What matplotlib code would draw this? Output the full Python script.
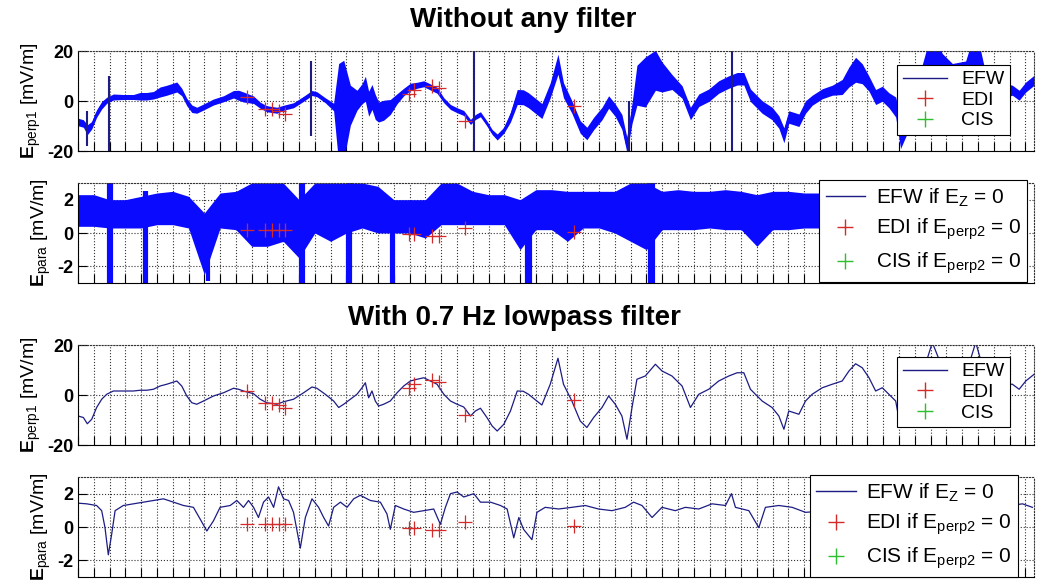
import numpy as np
import matplotlib
matplotlib.use("Agg")
import matplotlib.pyplot as plt
from matplotlib.lines import Line2D

plt.rcParams['font.family'] = ['Liberation Sans', 'DejaVu Sans']
plt.rcParams['mathtext.fontset'] = 'custom'
plt.rcParams['mathtext.rm'] = 'Liberation Sans'
plt.rcParams['mathtext.it'] = 'Liberation Sans:italic'
plt.rcParams['mathtext.bf'] = 'Liberation Sans:bold'
plt.rcParams['axes.unicode_minus'] = False

# ---- E_perp1, lowpass filtered (time in tick units) ----
e1_t = [0.00, 0.34, 0.59, 0.87, 1.18, 1.50, 1.82, 2.24, 2.87, 3.51,
        3.93, 4.35, 4.78, 5.20, 5.62, 6.26, 6.57, 6.89, 7.21, 7.52,
        7.95, 8.58, 9.22, 9.85, 10.17, 10.48, 11.12, 11.54, 11.96, 12.60,
        13.02, 13.65, 14.29, 14.82, 15.13, 15.66, 16.19, 16.51, 16.83, 17.25,
        17.67, 17.99, 18.20, 18.41, 18.62, 18.83, 19.04, 19.36, 19.78, 20.21,
        20.63, 21.05, 21.48, 21.90, 22.32, 22.74, 23.17, 23.59, 24.01, 24.43,
        24.86, 25.17, 25.49, 25.91, 26.23, 26.55, 26.97, 27.39, 27.82, 28.20,
        28.53, 29.38, 29.91, 30.40, 30.75, 31.28, 31.81, 32.23, 32.66, 33.19,
        33.61, 34.03, 34.45, 34.77, 35.09, 35.40, 35.93, 36.57, 36.99, 37.62,
        38.26, 38.79, 39.32, 39.95, 40.58, 41.22, 41.75, 42.17, 42.59, 43.33,
        43.96, 44.39, 44.71, 45.02, 45.66, 46.08, 46.50, 47.14, 47.77, 48.40,
        48.83, 49.25, 49.67, 50.10, 50.52, 50.94, 51.36, 51.79, 52.10, 53.27,
        54.11, 54.74, 55.38, 56.22, 56.86, 57.49, 58.55, 59.18, 59.61, 60.03,
        60.56]
e1_filt = [-8.4, -9.0, -11.5, -9.7, -5.0, -1.7, 0.3, 1.6, 1.6, 1.6,
           1.9, 1.9, 2.3, 3.6, 4.3, 5.6, 3.6, -0.4, -3.1, -3.7,
           -2.4, -0.4, 0.9, 2.7, 2.3, 1.6, 0.5, -1.7, -3.1, -3.7,
           -2.7, -1.7, 0.9, 3.2, 2.7, 0.3, -2.4, -5.0, -3.7, -1.7,
           0.3, 2.9, 4.9, -1.1, 1.6, -2.4, -4.4, -3.7, -2.4, 0.9,
           3.6, 5.6, 6.3, 6.9, 5.6, 4.3, 0.3, -2.4, -3.7, -4.8,
           -8.4, -6.4, -5.3, -9.1, -12.4, -14.4, -11.7, -6.4, 1.6, 1.5,
           0.3, -4.0, 4.3, 14.7, 4.3, -2.4, -10.4, -13.0, -9.0, -5.0,
           -0.4, -3.7, -8.4, -17.7, -5.0, 6.3, 7.6, 12.3, 9.6, 7.6,
           3.6, -5.0, 0.3, 2.3, 5.6, 7.6, 8.9, 8.9, 2.3, -2.4,
           -5.0, -8.4, -13.7, -6.4, -7.7, -2.4, 0.3, 2.9, 4.3, 5.6,
           9.6, 12.5, 10.9, 6.9, 1.6, 2.9, 0.3, -2.4, -13.0, 4.0,
           21.0, 11.0, 7.0, 8.0, 21.0, 7.0, 4.3, 4.3, 2.3, 5.6,
           8.3]
# half-width of the noisy band in the unfiltered E_perp1
e1_noise = [1.5, 1.5, 2.0, 1.5, 1.5, 1.5, 1.2, 1.2, 1.0, 1.0,
            1.5, 1.5, 1.5, 2.0, 2.0, 2.0, 1.5, 1.5, 1.5, 1.2,
            1.2, 1.2, 1.2, 1.5, 2.0, 2.0, 1.5, 1.2, 1.2, 1.2,
            1.0, 1.0, 1.0, 1.0, 1.0, 1.0, 1.5, 20.0, 20.0, 8.0,
            4.0, 4.0, 5.0, 5.0, 5.0, 5.0, 4.0, 4.0, 3.0, 2.0,
            1.5, 1.5, 1.2, 1.2, 1.2, 1.2, 1.0, 1.0, 1.0, 1.0,
            1.0, 1.0, 1.0, 1.0, 1.0, 1.2, 1.2, 2.0, 3.0, 3.0,
            3.0, 3.0, 3.0, 4.0, 3.0, 2.5, 2.5, 2.5, 2.5, 2.5,
            2.5, 2.5, 3.0, 3.0, 4.0, 8.0, 10.0, 8.0, 6.0, 3.0,
            2.5, 2.5, 2.5, 2.5, 2.5, 2.5, 2.5, 2.5, 2.5, 2.5,
            2.5, 2.5, 3.0, 2.5, 2.5, 2.5, 2.0, 2.0, 2.0, 3.0,
            4.0, 5.0, 4.0, 3.0, 3.0, 3.0, 3.0, 4.0, 6.0, 6.0,
            8.0, 8.0, 8.0, 8.0, 8.0, 4.0, 3.0, 2.0, 2.0, 2.0,
            2.0]
e1_spike_t = [0.6, 1.97, 14.75, 25.05, 34.9, 41.4]
e1_spike_lo = [-18, -20, -14, -20, -20, -20]
e1_spike_hi = [-4, 10, 16, 20, 0, 20]

# ---- E_para, lowpass filtered ----
e2_t = [0.00, 0.55, 1.18, 1.50, 1.71, 1.92, 2.13, 2.35, 2.87, 3.51,
        4.14, 4.78, 5.41, 6.05, 6.68, 7.31, 7.74, 8.16, 8.58, 9.00,
        9.64, 10.06, 10.48, 10.80, 11.12, 11.43, 11.75, 12.07, 12.39, 12.70,
        13.02, 13.34, 13.65, 14.08, 14.40, 14.82, 15.24, 15.56, 15.87, 16.19,
        16.62, 17.04, 17.46, 17.88, 18.52, 19.15, 19.57, 19.78, 20.10, 20.63,
        21.26, 21.90, 22.53, 22.95, 23.27, 23.59, 24.01, 24.43, 25.07, 25.49,
        26.13, 26.76, 27.18, 27.60, 27.92, 28.22, 28.75, 29.07, 29.59, 30.44,
        31.28, 32.13, 32.97, 33.82, 34.66, 35.19, 35.72, 36.36, 36.99, 37.83,
        38.47, 39.32, 40.16, 41.01, 41.39, 41.64, 42.49, 43.12, 43.54, 44.39,
        45.23, 46.08, 49.04, 53.27, 57.49, 59.82, 60.45]
e2_filt = [1.43, 1.39, 1.29, 0.98, -0.04, -1.67, -0.45, 0.98, 1.29, 1.39,
           1.49, 1.59, 1.69, 1.49, 1.29, 1.18, 0.47, -0.24, 0.37, 1.18,
           1.29, 1.59, 1.18, 1.59, 1.18, 0.57, 1.49, 1.80, 1.18, 2.41,
           1.69, 1.59, 0.88, -1.27, 0.57, 1.69, 1.18, 0.57, 0.06, 1.18,
           1.49, 1.18, 1.69, 1.90, 1.59, 1.49, 0.78, -0.14, 1.29, 1.08,
           0.88, 0.98, 1.08, 0.16, 1.18, 2.00, 2.10, 1.80, 2.00, 1.49,
           1.49, 1.29, 1.08, -0.65, 0.57, -0.14, -0.76, 0.88, 1.18, 1.08,
           1.18, 1.29, 1.08, 0.98, 1.18, 1.49, 1.29, 0.57, 1.18, 0.98,
           1.18, 1.08, 1.39, 1.29, 2.00, 1.18, 0.98, -0.04, 1.18, 1.29,
           1.18, 0.88, 1.08, 1.18, 1.08, 1.39, 1.18]

# unfiltered E_para: band limits on a whole-tick grid, plus deep spikes
e2_raw_t = list(range(61))
e2_raw_lo = [0.4, 0.4, 0.3, 0.3, 0.3, 0.5, 0.5, 0.3, -2.5, 0.3,
             0.2, -0.8, -0.8, -0.5, -1.5, 0.0, -0.5, 0.0, 0.3, 0.0,
             0.0, 0.0, -0.3, 0.5, 0.5, 0.5, 0.5, 0.5, -1.0, 0.2,
             0.2, -0.5, 0.3, 0.3, 0.0, -0.5, -1.0, 0.2, 0.2, 0.2,
             0.3, 0.2, 0.2, -0.8, 0.2, 0.2, 0.3, 0.3, 0.3, 0.3,
             0.3, 0.3, 0.3, 0.3, 0.3, 0.3, 0.3, 0.3, 0.3, 0.5,
             0.5]
e2_raw_hi = [2.3, 2.3, 2.0, 2.0, 2.2, 2.4, 2.5, 2.2, 1.2, 2.4,
             2.5, 3.0, 3.0, 3.0, 2.0, 3.0, 3.0, 3.0, 3.0, 2.8,
             2.0, 2.0, 2.0, 3.0, 3.0, 2.5, 2.3, 2.3, 2.0, 2.6,
             2.6, 2.5, 2.5, 2.5, 2.5, 3.0, 3.0, 2.5, 2.6, 2.5,
             2.5, 2.6, 2.5, 2.3, 2.5, 2.5, 2.4, 2.4, 2.4, 2.4,
             2.4, 2.4, 2.4, 2.4, 2.4, 2.4, 2.4, 2.4, 2.4, 1.9,
             1.9]
e2_spike_t = [1.97, 2.07, 4.22, 4.32, 8.25, 14.15, 14.25, 17.12, 17.22,
              19.88, 19.96, 28.45, 28.6, 36.25, 36.4]
e2_spike_lo = [-3.1, -3.1, -3.1, -3.1, -2.9, -3.1, -3.1, -3.1, -3.1,
               -3.1, -3.1, -3.1, -3.1, -3.1, -3.1]
e2_spike_hi = [3.0, 3.0, 2.5, 2.5, 1.0, 3.0, 3.0, 3.0, 3.0,
               2.0, 2.0, 2.0, 2.0, 3.0, 3.0]

# ---- EDI points ----
edi_t = [10.70, 11.86, 12.28, 12.70, 13.13, 20.94, 21.26, 22.43, 22.85, 24.54, 31.39]
edi_perp1 = [1.6, -3.1, -3.3, -3.9, -5.1, 2.7, 4.3, 5.9, 5.3, -8.0, -2.1]
edi_para = [0.16, 0.20, 0.20, 0.20, 0.20, -0.04, -0.08, -0.20, -0.20, 0.32, 0.06]
cis_t = []
cis_v = []

raw_col = '#0a0aff'
filt_col = '#1c1c84'
edi_col = '#d42a2a'
cis_col = '#2cc02c'

W, H = 1048, 586
fig = plt.figure(figsize=(W / 100, H / 100), dpi=100)


def make_axes(top_px):
    return fig.add_axes([78 / W, 1 - (top_px + 100) / H, 956 / W, 100 / H])


def style(ax, yticks, ylim, ylabel):
    ax.set_xlim(0, 60.55)
    ax.set_ylim(*ylim)
    ax.set_xticks(range(61))
    ax.set_xticklabels([])
    ax.set_yticks(yticks)
    ax.set_yticklabels([str(v) for v in yticks], fontsize=13, fontweight='bold')
    ax.tick_params(direction='in', length=6.5, width=0.8, top=False, right=False)
    ax.grid(True, linestyle=':', color='#333333', linewidth=0.8)
    ax.set_axisbelow(True)
    for s in ['top', 'right']:
        ax.spines[s].set_linestyle(':')
        ax.spines[s].set_color('#333333')
    ax.set_ylabel(ylabel, fontsize=14, labelpad=3)


def legend(ax, labels, anchor, spacing, hlen, fsize, tpad):
    handles = [Line2D([], [], color=filt_col, lw=1),
               Line2D([], [], color=edi_col, marker='+', ls='none', ms=11, mew=1.0),
               Line2D([], [], color=cis_col, marker='+', ls='none', ms=11, mew=1.0)]
    lg = ax.legend(handles, labels, loc='upper right', bbox_to_anchor=anchor,
                   fontsize=fsize, frameon=True, fancybox=False, framealpha=1,
                   edgecolor='black', borderpad=0.3, labelspacing=spacing,
                   handlelength=hlen, handletextpad=tpad, borderaxespad=0)
    lg.get_frame().set_linewidth(0.8)
    lg.set_zorder(10)


lab1 = ['EFW', 'EDI', 'CIS']
lab2 = ['EFW if E$_{\\mathrm{Z}}$ = 0', 'EDI if E$_{\\mathrm{perp2}}$ = 0',
        'CIS if E$_{\\mathrm{perp2}}$ = 0']
yl1 = r'$\mathbf{E}_{\mathrm{perp1}}$ [mV/m]'
yl2 = r'$\mathbf{E}_{\mathrm{para}}$ [mV/m]'

e1_t_a = np.array(e1_t)
e1_f_a = np.array(e1_filt)
e1_n_a = np.array(e1_noise)

# panel 1: unfiltered E_perp1
ax1 = make_axes(51)
ax1.fill_between(e1_t_a, e1_f_a - e1_n_a, e1_f_a + e1_n_a, color=raw_col, lw=0)
ax1.plot(e1_t_a, e1_f_a, color=raw_col, lw=1.2)
ax1.vlines(e1_spike_t, e1_spike_lo, e1_spike_hi, color=filt_col, lw=1.5)
ax1.plot(edi_t, edi_perp1, '+', color=edi_col, ms=10, mew=0.9)
ax1.plot(cis_t, cis_v, '+', color=cis_col)
style(ax1, [-20, 0, 20], (-20, 20), yl1)
legend(ax1, lab1, (0.975, 0.86), 0.15, 2.3, 14, 0.7)

# panel 2: unfiltered E_para
ax2 = make_axes(183)
ax2.fill_between(e2_raw_t, e2_raw_lo, e2_raw_hi, color=raw_col, lw=0)
ax2.vlines(e2_spike_t, e2_spike_lo, e2_spike_hi, color=raw_col, lw=3)
ax2.plot(edi_t, edi_para, '+', color=edi_col, ms=10, mew=0.9)
ax2.plot(cis_t, cis_v, '+', color=cis_col)
style(ax2, [-2, 0, 2], (-3, 3), yl2)
legend(ax2, lab2, (0.993, 1.03), 0.4, 1.9, 15, 0.5)

# panel 3: lowpass E_perp1
ax3 = make_axes(345)
ax3.plot(e1_t, e1_filt, color=filt_col, lw=0.9)
ax3.plot(edi_t, edi_perp1, '+', color=edi_col, ms=10, mew=0.9)
ax3.plot(cis_t, cis_v, '+', color=cis_col)
style(ax3, [-20, 0, 20], (-20, 20), yl1)
legend(ax3, lab1, (0.975, 0.88), 0.15, 2.3, 14, 0.7)

# panel 4: lowpass E_para
ax4 = make_axes(477)
ax4.plot(e2_t, e2_filt, color=filt_col, lw=0.9)
ax4.plot(edi_t, edi_para, '+', color=edi_col, ms=10, mew=0.9)
ax4.plot(cis_t, cis_v, '+', color=cis_col)
style(ax4, [-2, 0, 2], (-3, 3), yl2)
legend(ax4, lab2, (0.983, 1.02), 0.4, 1.9, 15, 0.5)

fig.text(0.499, 1 - 20 / H, 'Without any filter', ha='center', va='center',
         fontsize=20, fontweight='bold')
fig.text(0.491, 1 - 318 / H, 'With 0.7 Hz lowpass filter', ha='center', va='center',
         fontsize=20, fontweight='bold')

fig.savefig('out.png', dpi=100)
